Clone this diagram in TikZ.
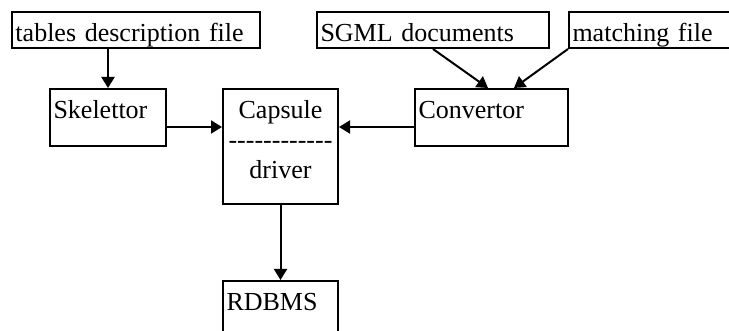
\documentclass[tikz,border=0pt]{standalone}
\usepackage{fontspec}
\setmainfont{Liberation Serif}
\usetikzlibrary{arrows.meta, positioning}
\tikzset{
  % box style
  block/.style={
    draw
    , line width=2pt
    , anchor=north west
    , inner xsep=3.5pt
    , inner ysep=0pt
    , text height=29.5pt
    , align=left
    , font=\fontsize{26}{30}\selectfont
  },
}
\tikzset{
  % arrow style
  link/.style={
    line width=2pt
    , -{Triangle[length=11pt,width=13pt]}
  },
}
\newcommand{\hy}{\mbox{-}}

\begin{document}
\begin{tikzpicture}[x=1pt, y=-1pt]
      \useasboundingbox (0,0) rectangle (729,331);
      \node[block, text width=241pt, text depth=6.5pt] (tdf) at (11,11) {tables description file};
      \node[block, text width=225pt, text depth=6.5pt] (sgml) at (316,11) {SGML documents};
      \node[block, text width=160pt, text depth=6.5pt] (match) at (568,11) {matching file};
      \node[block, text width=109pt, text depth=27.5pt] (skel) at (49,88) {Skelettor};
      \node[block, text width=108pt, text depth=85.5pt, align=center] (caps) at (222,88) {Capsule\\\hy\hy\hy\hy\hy\hy\hy\hy\hy\hy\hy\hy\\driver};
      \node[block, text width=146pt, text depth=27.5pt] (conv) at (414,88) {Convertor};
      \node[block, text width=108pt, text depth=40pt] (rdbms) at (222,280) {RDBMS};

      \draw[link] (skel.north |- tdf.south) -- (skel.north);
      \draw[link] (sgml.south) -- ([xshift=-3.5pt]conv.north);
      \draw[link] (match.south west) -- ([xshift=22.5pt]conv.north);
      \draw[link] ([yshift=-9.5pt]skel.east) -- ([yshift=-9.5pt]skel.east -| caps.west);
      \draw[link] ([yshift=-9.5pt]conv.west) -- ([yshift=-9.5pt]conv.west -| caps.east);
      \draw[link] (caps.south) -- (rdbms.north);
    \end{tikzpicture}
\end{document}
